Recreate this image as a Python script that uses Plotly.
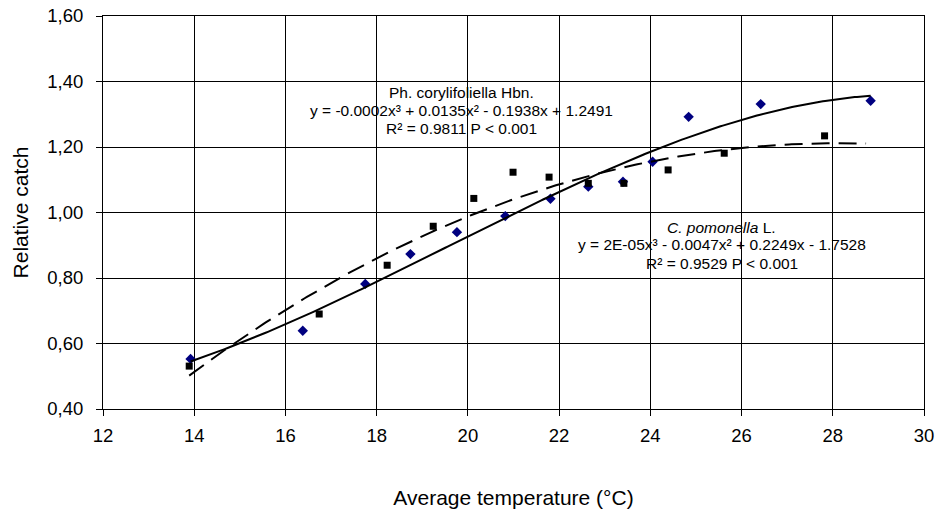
import numpy as np
import plotly.graph_objects as go

# Ph. corylifoliella Hbn. (blue diamonds, solid trend)
ph_temp = [13.92, 16.38, 17.75, 18.74, 19.76, 20.82, 21.81, 22.64, 23.40, 24.05, 24.84, 26.42, 28.83]
ph_catch = [0.553, 0.639, 0.782, 0.873, 0.940, 0.989, 1.042, 1.079, 1.094, 1.155, 1.292, 1.331, 1.341]

# C. pomonella L. (black squares, dashed trend)
cp_temp = [13.89, 16.74, 18.23, 19.24, 20.13, 20.99, 21.78, 22.64, 23.42, 24.39, 25.62, 27.82]
cp_catch = [0.531, 0.690, 0.839, 0.958, 1.043, 1.123, 1.108, 1.089, 1.089, 1.130, 1.181, 1.234]

x_ticks = [12, 14, 16, 18, 20, 22, 24, 26, 28, 30]
y_ticks = [0.40, 0.60, 0.80, 1.00, 1.20, 1.40, 1.60]

FONT = "Liberation Sans, Arial, sans-serif"

def trend(xs, ys, x_lo, x_hi):
    c = np.polyfit(xs, ys, 3)
    xx = np.linspace(x_lo, x_hi, 300)
    return xx, np.polyval(c, xx)

hi = max(max(ph_temp), max(cp_temp))
ph_x, ph_y = trend(ph_temp, ph_catch, min(ph_temp), max(ph_temp))
cp_x, cp_y = trend(cp_temp, cp_catch, min(cp_temp), hi - 0.1)

fig = go.Figure()
fig.add_trace(go.Scatter(x=ph_temp, y=ph_catch, mode="markers",
                         marker=dict(symbol="diamond", size=8, color="#000080"),
                         showlegend=False, hoverinfo="skip"))
fig.add_trace(go.Scatter(x=cp_temp, y=cp_catch, mode="markers",
                         marker=dict(symbol="square", size=7, color="#000000"),
                         showlegend=False, hoverinfo="skip"))
fig.add_trace(go.Scatter(x=ph_x, y=ph_y, mode="lines",
                         line=dict(color="#000000", width=2),
                         showlegend=False, hoverinfo="skip"))
fig.add_trace(go.Scatter(x=cp_x, y=cp_y, mode="lines",
                         line=dict(color="#000000", width=2, dash="18px,9px"),
                         showlegend=False, hoverinfo="skip"))

ann_font = dict(family=FONT, size=15.5, color="#000000")
ann1 = ["Ph. corylifoliella Hbn.",
        "y = -0.0002x³ + 0.0135x² - 0.1938x + 1.2491",
        "R² = 0.9811 P < 0.001"]
ann1_y = [1.367, 1.311, 1.255]
ann2 = ["<i>C. pomonella</i> L.",
        "y = 2E-05x³ - 0.0047x² + 0.2249x - 1.7528",
        "R² = 0.9529 P < 0.001"]
ann2_y = [0.955, 0.901, 0.845]
for t, yv in zip(ann1, ann1_y):
    fig.add_annotation(x=19.87, y=yv, text=t, showarrow=False, font=ann_font,
                       xanchor="center", yanchor="middle")
for t, yv in zip(ann2, ann2_y):
    fig.add_annotation(x=25.57, y=yv, text=t, showarrow=False, font=ann_font,
                       xanchor="center", yanchor="middle")

axis_common = dict(showgrid=True, gridcolor="#000000", gridwidth=1,
                   showline=True, linecolor="#000000", linewidth=1,
                   ticks="outside", ticklen=6, tickcolor="#000000", tickwidth=1,
                   zeroline=False, ticklabeloverflow="allow",
                   tickfont=dict(family=FONT, size=18.5, color="#000000"))

fig.update_xaxes(range=[12, 30], tickvals=x_ticks, ticktext=[str(v) for v in x_ticks],
                 ticklabelstandoff=4, mirror=True,
                 title=dict(text="Average temperature (°C)", standoff=45,
                            font=dict(family=FONT, size=21, color="#000000")),
                 **axis_common)
fig.update_yaxes(range=[0.4, 1.6], tickvals=y_ticks,
                 ticktext=[f"{v:.2f}".replace(".", ",") for v in y_ticks],
                 ticklabelstandoff=9, mirror=True,
                 title=dict(text="Relative catch", standoff=12,
                            font=dict(family=FONT, size=21, color="#000000")),
                 **axis_common)

fig.update_layout(width=940, height=513,
                  margin=dict(l=103, r=16, t=16, b=104, autoexpand=False),
                  plot_bgcolor="#ffffff", paper_bgcolor="#ffffff",
                  font=dict(family=FONT, color="#000000"))

fig.write_html("out.html",
               config={"displayModeBar": False},
               post_script="document.body.style.margin='0';document.body.style.overflow='hidden';")
